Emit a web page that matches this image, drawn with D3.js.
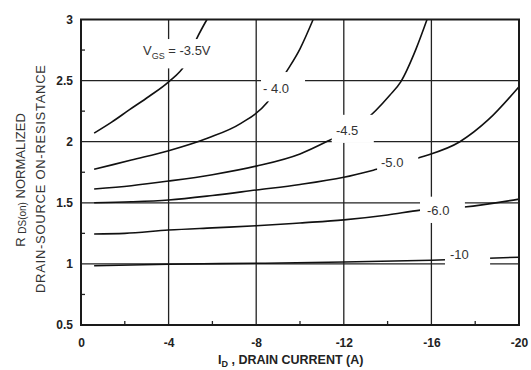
<!DOCTYPE html>
<html>
<head>
<meta charset="UTF-8">
<title>RDS(on) vs ID</title>
<style>
  body { margin: 0; background: #fff; }
  svg { display: block; font-family: "Liberation Sans", Arial, sans-serif; }
  .grid line { stroke: #222; stroke-width: 1.3px; }
  .curve { fill: none; stroke: #111; stroke-width: 1.6px; }
  .tick text { fill: #222; font-size: 12px; font-weight: bold; }
  .lbl { fill: #333; font-size: 13px; }
</style>
</head>
<body>
<svg width="531" height="370"></svg>
<script src="https://d3js.org/d3.v7.min.js"></script>
<script>
// tick values
const xTicks = [0, -4, -8, -12, -16, -20];
const yTicks = [0.5, 1, 1.5, 2, 2.5, 3];
const xMinor = [-2, -6, -10, -14, -18];
const yMinor = [0.75, 1.25, 1.75, 2.25, 2.75];

// curves: [ID (A), normalized RDS(on)]
const vgs35 = [[-0.6, 2.07], [-1.4, 2.16], [-2.2, 2.26], [-3.1, 2.37], [-4, 2.49], [-4.75, 2.63], [-5.3, 2.85], [-5.75, 3.0]];
const vgs40 = [[-0.6, 1.774], [-2.3, 1.85], [-4, 1.926], [-5.8, 2.03], [-7.3, 2.15], [-8.5, 2.32], [-9.3, 2.55], [-10.0, 2.76], [-10.6, 3.0]];
const vgs45 = [[-0.6, 1.613], [-2.3, 1.64], [-4, 1.678], [-6, 1.73], [-8, 1.80], [-10, 1.90], [-11.3, 2.008], [-12.9, 2.164], [-14.1, 2.38], [-14.6, 2.49], [-15.3, 2.76], [-15.8, 3.0]];
const vgs50 = [[-0.6, 1.50], [-2.3, 1.508], [-4, 1.523], [-6, 1.56], [-8, 1.605], [-10, 1.65], [-12, 1.709], [-13.5, 1.774], [-15.5, 1.872], [-17.3, 2.0], [-18.6, 2.18], [-20, 2.45]];
const vgs60 = [[-0.6, 1.245], [-2, 1.25], [-4, 1.277], [-6, 1.295], [-8, 1.312], [-10, 1.335], [-12, 1.36], [-14, 1.40], [-15.5, 1.44], [-17.5, 1.465], [-20, 1.53]];
const vgs10 = [[-0.6, 0.985], [-4, 0.997], [-8, 1.005], [-12, 1.015], [-16, 1.03], [-20, 1.055]];
const curves = [vgs35, vgs40, vgs45, vgs50, vgs60, vgs10];

// curve labels: text, anchor (ID, R), white gap box (ID range, R range)
const labels = [
  { text: "- 4.0", id: -8.31, r: 2.40, box: [-8.22, -10.23, 2.33, 2.57] },
  { text: "-4.5", id: -11.64, r: 2.055, box: [-11.45, -13.37, 1.99, 2.22] },
  { text: "-5.0", id: -13.7, r: 1.793, box: [-13.52, -15.4, 1.74, 1.94] },
  { text: "-6.0", id: -15.8, r: 1.40, box: [-15.48, -17.53, 1.335, 1.55] },
  { text: "-10", id: -16.85, r: 1.04, box: [-16.62, -18.68, 0.955, 1.125] }
];
const vgsBox = [-2.7, -6.53, 2.6, 2.84];

const width = 531, height = 370;
const plot = { left: 81, right: 519, top: 19.5, bottom: 325 };

const svg = d3.select("svg");
const x = d3.scaleLinear().domain([0, -20]).range([plot.left, plot.right]);
const y = d3.scaleLinear().domain([0.5, 3]).range([plot.bottom, plot.top]);

// gridlines
const grid = svg.append("g").attr("class", "grid");
grid.selectAll(".vg").data(xTicks.slice(1, -1)).enter().append("line")
  .attr("x1", d => x(d)).attr("x2", d => x(d))
  .attr("y1", plot.top).attr("y2", plot.bottom);
grid.selectAll(".hg").data(yTicks.slice(1, -1)).enter().append("line")
  .attr("y1", d => y(d)).attr("y2", d => y(d))
  .attr("x1", plot.left).attr("x2", plot.right);

// curves
const line = d3.line().x(d => x(d[0])).y(d => y(d[1])).curve(d3.curveMonotoneX);
svg.append("g").selectAll("path").data(curves).enter().append("path")
  .attr("class", "curve").attr("d", line);

// white boxes behind labels
const boxes = labels.map(l => l.box).concat([vgsBox]);
svg.append("g").selectAll("rect").data(boxes).enter().append("rect")
  .attr("x", d => x(d[0])).attr("width", d => x(d[1]) - x(d[0]))
  .attr("y", d => y(d[3])).attr("height", d => y(d[2]) - y(d[3]))
  .attr("fill", "#fff");

svg.append("g").selectAll("text").data(labels).enter().append("text")
  .attr("class", "lbl")
  .attr("x", d => x(d.id)).attr("y", d => y(d.r))
  .text(d => d.text);

const vt = svg.append("text").attr("class", "lbl")
  .attr("x", x(-2.83)).attr("y", y(2.71));
vt.append("tspan").text("V");
vt.append("tspan").attr("font-size", "9px").attr("dy", 4).text("GS");
vt.append("tspan").attr("dy", -4).text(" = -3.5V");

// axes (plain hyphen for negatives, as in the datasheet)
svg.append("g").attr("class", "tick")
  .attr("transform", `translate(0,${plot.bottom})`)
  .call(d3.axisBottom(x).tickValues(xTicks).tickSize(0).tickPadding(13).tickFormat(d => String(d)))
  .call(g => g.select(".domain").remove());
svg.append("g").attr("class", "tick")
  .attr("transform", `translate(${plot.left},0)`)
  .call(d3.axisLeft(y).tickValues(yTicks).tickSize(0).tickPadding(8).tickFormat(d => String(d)))
  .call(g => g.select(".domain").remove());

// minor ticks
svg.append("g").selectAll("line").data(xMinor).enter().append("line")
  .attr("x1", d => x(d)).attr("x2", d => x(d))
  .attr("y1", plot.bottom).attr("y2", plot.bottom - 4)
  .attr("stroke", "#222").attr("stroke-width", 1.3);
svg.append("g").selectAll("line").data(yMinor).enter().append("line")
  .attr("y1", d => y(d)).attr("y2", d => y(d))
  .attr("x1", plot.left - 1).attr("x2", plot.left + 4)
  .attr("stroke", "#222").attr("stroke-width", 1.3);

// frame
svg.append("rect")
  .attr("x", plot.left).attr("y", plot.top)
  .attr("width", plot.right - plot.left).attr("height", plot.bottom - plot.top)
  .attr("fill", "none").attr("stroke", "#1a1a1a").attr("stroke-width", 2);

// axis titles
const xt = svg.append("text")
  .attr("x", 218).attr("y", 364)
  .attr("font-size", "12.5px").attr("font-weight", "bold").attr("fill", "#222");
xt.append("tspan").text("I");
xt.append("tspan").attr("font-size", "9px").attr("dy", 3).text("D");
xt.append("tspan").attr("dy", -3).text("  , DRAIN CURRENT (A)");

const yt1 = svg.append("text")
  .attr("transform", "translate(25,180) rotate(-90)")
  .attr("text-anchor", "middle").attr("font-size", "13px").attr("fill", "#333");
yt1.append("tspan").text("R ");
yt1.append("tspan").attr("font-size", "10px").attr("dy", 1).text("DS(on)");
yt1.append("tspan").attr("dy", -1).text(" NORMALIZED");

svg.append("text")
  .attr("transform", "translate(45,179) rotate(-90)")
  .attr("text-anchor", "middle").attr("font-size", "13px").attr("fill", "#333")
  .attr("textLength", 228).attr("lengthAdjust", "spacing")
  .text("DRAIN-SOURCE ON-RESISTANCE");
</script>
</body>
</html>
